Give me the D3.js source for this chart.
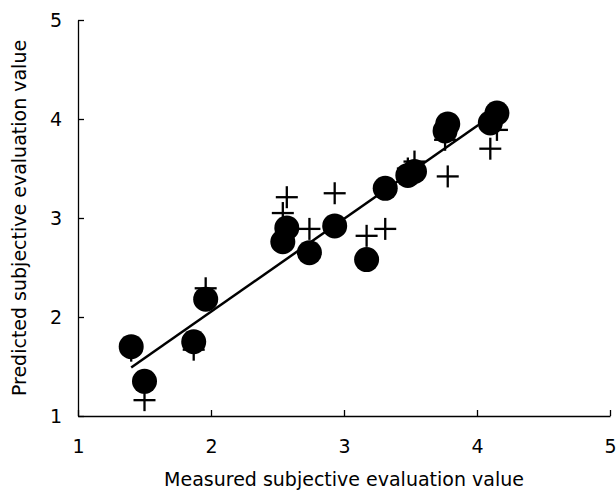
<!DOCTYPE html>
<html>

<head>
  <title>Measured vs predicted</title>
  <script src="https://cdn.jsdelivr.net/npm/d3@7/dist/d3.min.js"></script>
  <style type="text/css">
    body {
      margin: 0;
      background: #fff;
    }

    .axis path,
    .axis line {
      stroke: #000;
      stroke-width: 1.3px;
    }

    .axis text {
      font-family: "DejaVu Sans", sans-serif;
      font-size: 19px;
      fill: #000;
    }

    .title {
      font-family: "DejaVu Sans", sans-serif;
      font-size: 19px;
      fill: #000;
    }
  </style>
</head>

<body>
  <div id="chartArea"></div>
  <script type="text/javascript">
    // measured subjective evaluation values (x)
    let measured = [1.40, 1.50, 1.87, 1.96, 2.54, 2.57, 2.74, 2.93, 3.17, 3.31, 3.48, 3.53, 3.76, 3.78, 4.10, 4.15];
    // predicted values, model drawn as filled circles
    let predCircle = [1.70, 1.35, 1.75, 2.18, 2.76, 2.90, 2.65, 2.92, 2.58, 3.30, 3.43, 3.47, 3.88, 3.95, 3.96, 4.06];
    // predicted values, model drawn as crosses
    let predCross = [1.66, 1.16, 1.67, 2.29, 3.05, 3.21, 2.89, 3.25, 2.82, 2.89, 3.50, 3.57, 3.79, 3.42, 3.70, 3.89];
    // regression line end points
    let fitX = [1.40, 4.01];
    let fitY = [1.49, 3.94];
    let ticks = [1, 2, 3, 4, 5];

    let w = 616;
    let h = 492;

    let xScale = d3.scaleLinear()
      .domain([1, 5])
      .range([78, 610]);

    let yScale = d3.scaleLinear()
      .domain([1, 5])
      .range([416, 20]);

    let svg = d3.select('#chartArea').append('svg')
      .attr('width', w)
      .attr('height', h);

    svg.append('g')
      .attr('class', 'axis')
      .attr('transform', 'translate(0,' + yScale(1) + ')')
      .call(d3.axisBottom(xScale).tickValues(ticks).tickFormat(d3.format('d'))
        .tickSizeInner(-6).tickSizeOuter(0).tickPadding(24));

    svg.append('g')
      .attr('class', 'axis')
      .attr('transform', 'translate(' + xScale(1) + ',0)')
      .call(d3.axisLeft(yScale).tickValues(ticks).tickFormat(d3.format('d'))
        .tickSizeInner(-6).tickSizeOuter(0).tickPadding(16));

    let pts = measured.map((m, i) => {
      return { x: m, a: predCircle[i], b: predCross[i] };
    });

    let arm = 11;
    let cross = svg.append('g')
      .selectAll('g')
      .data(pts)
      .enter()
      .append('g')
      .attr('transform', d => {
        return 'translate(' + xScale(d.x) + ',' + yScale(d.b) + ')';
      })
      .attr('stroke', '#000')
      .attr('stroke-width', 2.3);
    cross.append('line').attr('x1', -arm).attr('x2', arm).attr('y1', 0).attr('y2', 0);
    cross.append('line').attr('x1', 0).attr('x2', 0).attr('y1', -arm).attr('y2', arm);

    svg.append('g')
      .selectAll('circle')
      .data(pts)
      .enter()
      .append('circle')
      .attr('cx', d => {
        return xScale(d.x);
      })
      .attr('cy', d => {
        return yScale(d.a);
      })
      .attr('r', 12.5)
      .attr('fill', '#000');

    svg.append('line')
      .attr('x1', xScale(fitX[0]))
      .attr('y1', yScale(fitY[0]))
      .attr('x2', xScale(fitX[1]))
      .attr('y2', yScale(fitY[1]))
      .attr('stroke', '#000')
      .attr('stroke-width', 2.5);

    svg.append('text')
      .attr('class', 'title')
      .attr('x', (xScale(1) + xScale(5)) / 2)
      .attr('y', 486)
      .attr('text-anchor', 'middle')
      .text('Measured subjective evaluation value');

    svg.append('text')
      .attr('class', 'title')
      .attr('transform', 'translate(26,' + (yScale(1) + yScale(5)) / 2 + ') rotate(-90)')
      .attr('text-anchor', 'middle')
      .text('Predicted subjective evaluation value');
  </script>
</body>

</html>
